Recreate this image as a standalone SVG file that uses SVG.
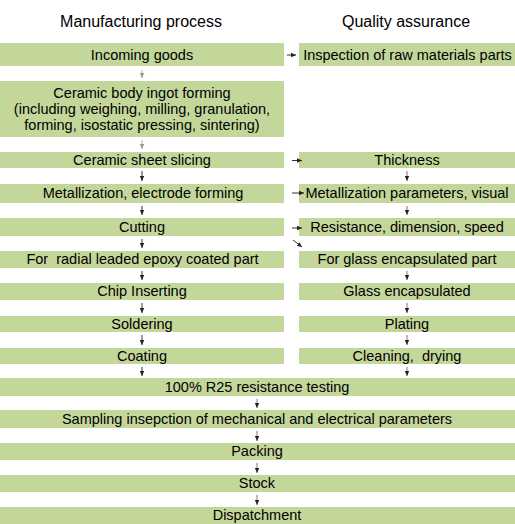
<svg xmlns="http://www.w3.org/2000/svg" width="515" height="524" viewBox="0 0 515 524">
<style>
  .box { fill: #C4D79B; }
  .t { font-family: "Liberation Sans", Arial, sans-serif; font-size: 14.5px; fill: #000; text-anchor: middle; }
  .h { font-family: "Liberation Sans", Arial, sans-serif; font-size: 16px; fill: #000; text-anchor: middle; }
  .a { stroke: #333; stroke-width: 1; fill: none; marker-end: url(#ah); }
  .al { stroke: #aaa; stroke-width: 1; fill: none; marker-end: url(#ahl); }
  .ar { stroke: #9a6676; stroke-width: 1; fill: none; marker-end: url(#ah); }
</style>
<defs>
  <marker id="ah" markerUnits="userSpaceOnUse" markerWidth="6" markerHeight="6" refX="5" refY="3" orient="auto">
    <path d="M0,0.8 L5,3 L0,5.2 Z" fill="#222"/>
  </marker>
  <marker id="ahl" markerUnits="userSpaceOnUse" markerWidth="6" markerHeight="6" refX="5" refY="3" orient="auto">
    <path d="M0,0.8 L5,3 L0,5.2 Z" fill="#999"/>
  </marker>
</defs>
<rect width="515" height="524" fill="#fff"/>

<g id="headers">
  <text class="h" x="141" y="27">Manufacturing process</text>
  <text class="h" x="406" y="27">Quality assurance</text>
</g>

<g id="n-incoming"><rect class="box" x="0" y="43" width="284" height="23"/><text class="t" x="142" y="59.5">Incoming goods</text></g>
<g id="n-inspection"><rect class="box" x="299" y="43" width="216" height="23"/><text class="t" x="407.5" y="59.5">Inspection of raw materials parts</text></g>
<g id="n-ceramic-body"><rect class="box" x="0" y="81" width="284" height="56"/>
  <text class="t" x="142" y="98">Ceramic body ingot forming</text>
  <text class="t" x="142" y="114">(including weighing, milling, granulation,</text>
  <text class="t" x="142" y="130">forming, isostatic pressing, sintering)</text>
</g>
<g id="n-slicing"><rect class="box" x="0" y="152" width="284" height="16"/><text class="t" x="142" y="165">Ceramic sheet slicing</text></g>
<g id="n-thickness"><rect class="box" x="299" y="152" width="216" height="16"/><text class="t" x="407" y="165">Thickness</text></g>
<g id="n-metallization"><rect class="box" x="0" y="184" width="284" height="19"/><text class="t" x="143" y="198">Metallization, electrode forming</text></g>
<g id="n-metal-params"><rect class="box" x="299" y="184" width="216" height="19"/><text class="t" x="407" y="198">Metallization parameters, visual</text></g>
<g id="n-cutting"><rect class="box" x="0" y="218" width="284" height="18"/><text class="t" x="142" y="231.5">Cutting</text></g>
<g id="n-resistance"><rect class="box" x="299" y="218" width="216" height="18"/><text class="t" x="407" y="231.5">Resistance, dimension, speed</text></g>
<g id="n-radial"><rect class="box" x="0" y="251" width="284" height="17"/><text class="t" x="142.5" y="264" xml:space="preserve">For  radial leaded epoxy coated part</text></g>
<g id="n-glass-part"><rect class="box" x="299" y="251" width="216" height="17"/><text class="t" x="407" y="264">For glass encapsulated part</text></g>
<g id="n-chip"><rect class="box" x="0" y="283" width="284" height="17"/><text class="t" x="142" y="296">Chip Inserting</text></g>
<g id="n-glass-enc"><rect class="box" x="299" y="283" width="216" height="17"/><text class="t" x="407" y="296">Glass encapsulated</text></g>
<g id="n-soldering"><rect class="box" x="0" y="316" width="284" height="16"/><text class="t" x="142" y="328.5">Soldering</text></g>
<g id="n-plating"><rect class="box" x="299" y="316" width="216" height="16"/><text class="t" x="407" y="328.5">Plating</text></g>
<g id="n-coating"><rect class="box" x="0" y="348" width="284" height="16"/><text class="t" x="142" y="360.5">Coating</text></g>
<g id="n-cleaning"><rect class="box" x="299" y="348" width="216" height="16"/><text class="t" x="407" y="360.5" xml:space="preserve">Cleaning,  drying</text></g>
<g id="n-r25"><rect class="box" x="0" y="378" width="515" height="18"/><text class="t" x="257" y="391.5">100% R25 resistance testing</text></g>
<g id="n-sampling"><rect class="box" x="0" y="410" width="515" height="18"/><text class="t" x="257" y="423.5">Sampling insepction of mechanical and electrical parameters</text></g>
<g id="n-packing"><rect class="box" x="0" y="443" width="515" height="17"/><text class="t" x="257" y="456">Packing</text></g>
<g id="n-stock"><rect class="box" x="0" y="475" width="515" height="17"/><text class="t" x="257" y="488">Stock</text></g>
<g id="n-dispatch"><rect class="box" x="0" y="507" width="515" height="17"/><text class="t" x="257" y="520">Dispatchment</text></g>

<g id="connectors">
  <!-- left column -->
  <line class="al" x1="142" y1="70" x2="142" y2="78"/>
  <line class="al" x1="142" y1="140" x2="142" y2="149"/>
  <line class="a" x1="142" y1="171" x2="142" y2="181"/>
  <line class="a" x1="142" y1="206" x2="142" y2="215"/>
  <line class="a" x1="142" y1="239" x2="142" y2="248"/>
  <line class="a" x1="142" y1="271" x2="142" y2="280"/>
  <line class="a" x1="142" y1="303" x2="142" y2="313"/>
  <line class="a" x1="142" y1="335" x2="142" y2="345"/>
  <line class="a" x1="142" y1="367" x2="142" y2="376"/>
  <!-- right column -->
  <line class="ar" x1="407" y1="171" x2="407" y2="181"/>
  <line class="ar" x1="407" y1="206" x2="407" y2="215"/>
  <line class="ar" x1="407" y1="271" x2="407" y2="280"/>
  <line class="ar" x1="407" y1="303" x2="407" y2="313"/>
  <line class="ar" x1="407" y1="335" x2="407" y2="345"/>
  <line class="ar" x1="407" y1="367" x2="407" y2="376"/>
  <!-- horizontal -->
  <line class="a" x1="287" y1="55" x2="296" y2="55"/>
  <line class="a" x1="292" y1="160.5" x2="302" y2="160.5"/>
  <line class="a" x1="292" y1="193" x2="304" y2="193"/>
  <line class="a" x1="292" y1="228" x2="302" y2="228"/>
  <line class="a" x1="293" y1="240" x2="302" y2="247"/>
  <!-- bottom center -->
  <line class="ar" x1="257" y1="399" x2="257" y2="408"/>
  <line class="ar" x1="257" y1="431" x2="257" y2="441"/>
  <line class="ar" x1="257" y1="463" x2="257" y2="473"/>
  <line class="ar" x1="257" y1="495" x2="257" y2="505"/>
</g>
</svg>
